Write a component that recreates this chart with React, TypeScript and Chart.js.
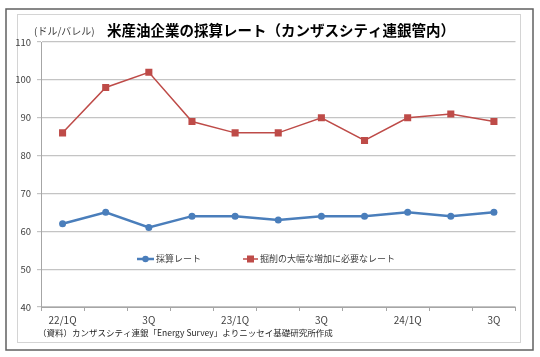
import { useEffect, useRef } from "react";
import { Chart, registerables } from "chart.js";

Chart.register(...registerables);

const quarters = ["22/1Q", "2Q", "3Q", "4Q", "23/1Q", "2Q", "3Q", "4Q", "24/1Q", "2Q", "3Q"];
const tickLabels = ["22/1Q", "", "3Q", "", "23/1Q", "", "3Q", "", "24/1Q", "", "3Q"];
const breakevenRate = [62, 65, 61, 64, 64, 63, 64, 64, 65, 64, 65];
const requiredRate = [86, 98, 102, 89, 86, 86, 90, 84, 90, 91, 89];
const seriesNames = ["採算レート", "掘削の大幅な増加に必要なレート"];
const titleText = "米産油企業の採算レート（カンザスシティ連銀管内）";
const unitText = "(ドル/バレル)";
const sourceText = "（資料）カンザスシティ連銀「Energy Survey」よりニッセイ基礎研究所作成";
const yMin = 40;
const yMax = 110;
const yStep = 10;

const FONT = '"Noto Sans CJK JP", "Noto Sans", sans-serif';
const BLUE = "#4a7ebb";
const RED = "#be4b48";

const decorPlugin = {
  id: "decor",
  beforeDraw(chart: any) {
    const ctx = chart.ctx;
    ctx.save();
    ctx.fillStyle = "#ffffff";
    ctx.fillRect(0, 0, chart.width, chart.height);
    ctx.lineWidth = 1.5;
    ctx.strokeStyle = "#606060";
    ctx.strokeRect(6, 9, 527, 341);
    ctx.lineWidth = 1;
    ctx.strokeStyle = "#d4d4d4";
    ctx.strokeRect(17.5, 14.5, 503, 328);
    ctx.restore();
  },
  afterDraw(chart: any) {
    const ctx = chart.ctx;
    ctx.save();
    // title
    ctx.fillStyle = "#000000";
    ctx.font = `bold 14.5px ${FONT}`;
    ctx.textAlign = "center";
    ctx.textBaseline = "middle";
    ctx.fillText(titleText, 281, 30);
    // unit
    ctx.font = `10px ${FONT}`;
    ctx.fillStyle = "#404040";
    ctx.textAlign = "left";
    ctx.fillText(unitText, 34, 31);
    // source
    ctx.font = `8.5px ${FONT}`;
    ctx.fillStyle = "#262626";
    ctx.fillText(sourceText, 38, 333);
    // legend
    const ly = 259;
    ctx.font = `9px ${FONT}`;
    // blue
    ctx.strokeStyle = BLUE;
    ctx.lineWidth = 2.5;
    ctx.beginPath();
    ctx.moveTo(137, ly);
    ctx.lineTo(154, ly);
    ctx.stroke();
    ctx.fillStyle = BLUE;
    ctx.beginPath();
    ctx.arc(145.5, ly, 3.2, 0, Math.PI * 2);
    ctx.fill();
    ctx.fillStyle = "#404040";
    ctx.fillText(seriesNames[0], 156, ly);
    // red
    ctx.strokeStyle = RED;
    ctx.lineWidth = 1.5;
    ctx.beginPath();
    ctx.moveTo(243, ly);
    ctx.lineTo(258, ly);
    ctx.stroke();
    ctx.fillStyle = RED;
    ctx.fillRect(247, ly - 3.5, 7, 7);
    ctx.fillStyle = "#404040";
    ctx.fillText(seriesNames[1], 260, ly);
    ctx.restore();
  },
};

export default function App() {
  const ref = useRef<HTMLCanvasElement | null>(null);
  useEffect(() => {
    if (!ref.current) return;
    const chart = new Chart(ref.current, {
      type: "line",
      data: {
        labels: quarters,
        datasets: [
          {
            label: seriesNames[0],
            data: breakevenRate,
            borderColor: BLUE,
            backgroundColor: BLUE,
            borderWidth: 2.5,
            pointStyle: "circle",
            pointRadius: 3.5,
            pointBorderWidth: 0,
            tension: 0,
          },
          {
            label: seriesNames[1],
            data: requiredRate,
            borderColor: RED,
            backgroundColor: RED,
            borderWidth: 1.5,
            pointStyle: "rect",
            pointRadius: 5,
            pointBorderWidth: 0,
            tension: 0,
          },
        ],
      },
      options: {
        animation: false,
        responsive: false,
        maintainAspectRatio: false,
        layout: { padding: { top: 42, left: 0, right: 24.5, bottom: 0 } },
        plugins: {
          legend: { display: false },
          title: { display: false },
          tooltip: { enabled: false },
        },
        scales: {
          x: {
            offset: true,
            grid: {
              offset: true,
              drawOnChartArea: false,
              drawTicks: true,
              tickLength: 4,
              color: "#a6a6a6",
            },
            border: { color: "#a6a6a6", width: 1 },
            ticks: {
              autoSkip: false,
              maxRotation: 0,
              padding: 3,
              color: "#404040",
              font: { size: 10, family: FONT },
              callback: (_v: any, i: number) => tickLabels[i],
            },
            afterFit: (s: any) => {
              s.height = 50;
            },
          },
          y: {
            min: yMin,
            max: yMax,
            ticks: {
              stepSize: yStep,
              padding: 6,
              color: "#404040",
              font: { size: 9.5, family: FONT },
            },
            grid: { color: "#c4c4c4", lineWidth: 1.2, tickLength: 4 },
            border: { color: "#a6a6a6", width: 1 },
            afterFit: (s: any) => {
              s.width = 41;
            },
          },
        },
      },
      plugins: [decorPlugin],
    });
    return () => chart.destroy();
  }, []);
  return (
    <div style={{ position: "fixed", left: 0, top: 0, width: 540, height: 357 }}>
      <canvas ref={ref} width={540} height={357} style={{ display: "block" }} />
    </div>
  );
}
